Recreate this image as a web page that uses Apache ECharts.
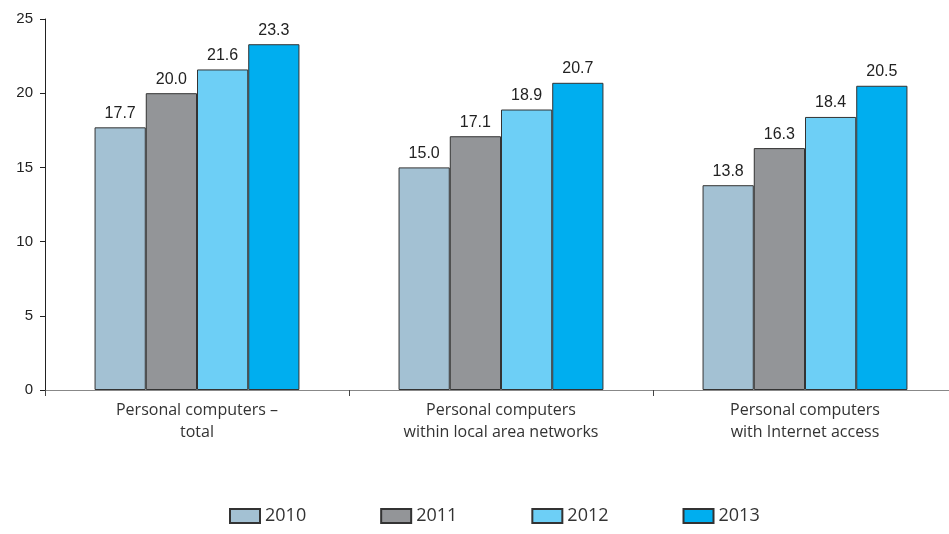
<!DOCTYPE html>
<html>
<head>
<meta charset="utf-8">
<style>
  html, body { margin: 0; padding: 0; background: #fff; overflow: hidden; }
  #chart { width: 960px; height: 534px; }
</style>
<script src="https://cdn.jsdelivr.net/npm/echarts@6/dist/echarts.min.js"></script>
</head>
<body>
<div id="chart"></div>
<script>
const categories = [
  'Personal computers –\ntotal',
  'Personal computers\nwithin local area networks',
  'Personal computers\nwith Internet access'
]
const years = ['2010', '2011', '2012', '2013']
const values2010 = [17.7, 15.0, 13.8]
const values2011 = [20.0, 17.1, 16.3]
const values2012 = [21.6, 18.9, 18.4]
const values2013 = [23.3, 20.7, 20.5]
const yTicks = [0, 5, 10, 15, 20, 25]

const colors = ['#a3c1d3', '#939598', '#6dcff6', '#00aeef']
const seriesData = [values2010, values2011, values2012, values2013]

const numFont = '"Liberation Sans", Arial, sans-serif'

// the plot runs past the window's right edge, so the div is a bit wider than 949
const chart = echarts.init(document.getElementById('chart'))

const option = {
  animation: false,
  grid: { left: 45, right: 3, top: 19, bottom: 144, containLabel: false },
  legend: {
    data: years,
    bottom: 4,
    left: 224,
    itemWidth: 30,
    itemHeight: 14,
    itemGap: 74,
    icon: 'rect',
    textStyle: { fontFamily: 'Open Sans', fontSize: 18, color: '#333' }
  },
  xAxis: {
    type: 'category',
    data: categories,
    axisLine: { lineStyle: { color: '#888', width: 1 } },
    axisTick: { show: true, length: 6, lineStyle: { color: '#444' } },
    axisLabel: {
      fontFamily: 'Open Sans',
      fontSize: 16,
      color: '#333',
      lineHeight: 22,
      margin: 9
    }
  },
  yAxis: {
    type: 'value',
    min: 0,
    max: yTicks[yTicks.length - 1],
    interval: 5,
    splitLine: { show: false },
    axisLine: { show: true, lineStyle: { color: '#222' } },
    axisTick: { show: true, length: 5, lineStyle: { color: '#222' } },
    axisLabel: { fontFamily: numFont, fontSize: 15, color: '#222', margin: 12 }
  },
  series: years.map((y, i) => ({
    name: y,
    type: 'bar',
    data: seriesData[i],
    barGap: '0%',
    barCategoryGap: '32.6%',
    itemStyle: { color: colors[i], borderColor: '#333', borderWidth: 1 },
    label: {
      show: true,
      position: 'top',
      distance: 6,
      formatter: p => p.value.toFixed(1),
      fontFamily: numFont,
      fontSize: 16,
      color: '#222'
    }
  }))
}

chart.setOption(option)
</script>
</body>
</html>
